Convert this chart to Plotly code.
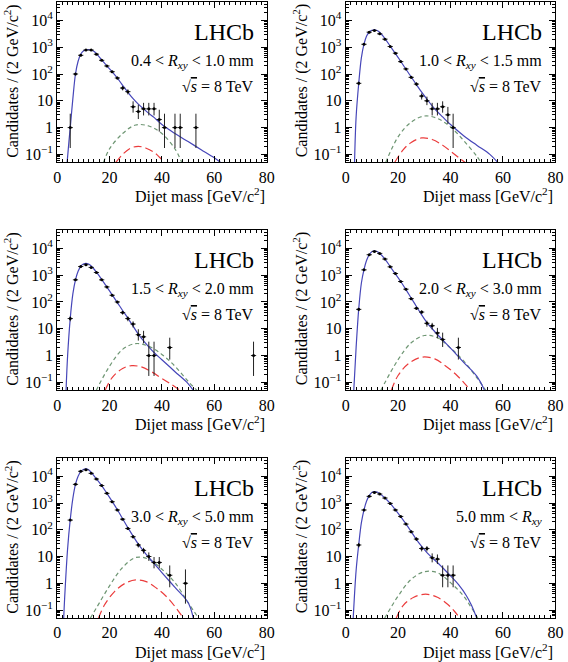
import plotly.graph_objects as go
from plotly.subplots import make_subplots
import math

# ---------------- data ----------------
panel_labels = [
    "0.4 &lt; <i>R</i><sub><i>xy</i></sub> &lt; 1.0 mm",
    "1.0 &lt; <i>R</i><sub><i>xy</i></sub> &lt; 1.5 mm",
    "1.5 &lt; <i>R</i><sub><i>xy</i></sub> &lt; 2.0 mm",
    "2.0 &lt; <i>R</i><sub><i>xy</i></sub> &lt; 3.0 mm",
    "3.0 &lt; <i>R</i><sub><i>xy</i></sub> &lt; 5.0 mm",
    "5.0 mm &lt; <i>R</i><sub><i>xy</i></sub>",
]

# data points: bin centres and counts
p1_x = [5, 7, 9, 11, 13, 15, 17, 19, 21, 23, 25, 27, 29, 31, 33, 35, 37, 39, 41, 45, 47, 53]
p1_y = [1, 100, 500, 780, 780, 550, 325, 200, 122, 71, 30, 22, 6, 4, 5, 5, 5, 2, 1, 1, 1, 1]
p2_x = [5, 7, 9, 11, 13, 15, 17, 19, 21, 23, 25, 27, 29, 31, 33, 35, 37, 39, 41]
p2_y = [45, 1290, 3650, 4200, 3160, 2000, 1060, 600, 290, 155, 75, 42, 15, 10, 5, 5, 6, 3, 1]
p3_x = [5, 7, 9, 11, 13, 15, 17, 19, 21, 23, 25, 27, 29, 31, 33, 35, 37, 43, 75]
p3_y = [24, 670, 2100, 2450, 1950, 1260, 670, 365, 178, 100, 40, 24, 15, 6, 5, 1, 1, 2, 1]
p4_x = [5, 7, 9, 11, 13, 15, 17, 19, 21, 23, 25, 27, 29, 31, 33, 35, 37, 43]
p4_y = [53, 1580, 5800, 7700, 6500, 4000, 2050, 1150, 580, 300, 133, 58, 42, 16, 13, 7, 4, 2]
p5_x = [5, 7, 9, 11, 13, 15, 17, 19, 21, 23, 25, 27, 29, 31, 33, 35, 37, 39, 43, 49]
p5_y = [230, 5000, 15400, 17400, 12900, 7900, 4500, 2300, 1120, 550, 250, 112, 55, 27, 17, 10, 6, 6, 2, 1]
p6_x = [5, 7, 9, 11, 13, 15, 17, 19, 21, 23, 25, 27, 29, 31, 33, 35, 37, 39, 41]
p6_y = [27, 550, 1780, 2500, 2180, 1540, 970, 550, 316, 163, 84, 45, 20, 20, 9, 8, 2, 2, 2]

# total fit (solid blue)
f1_x = [3.8, 4.5, 5, 6, 7, 8, 9, 10, 11, 12, 13, 14, 15, 17, 19, 21, 23, 25, 27, 29, 31, 33, 35, 37, 40, 45, 50, 55, 60, 63]
f1_y = [0.05, 0.3, 1.0, 12, 100, 300, 550, 720, 800, 820, 790, 700, 580, 340, 200, 120, 70, 38, 21, 12, 7.5, 5, 3.4, 2.4, 1.3, 0.6, 0.3, 0.15, 0.075, 0.045]
f2_x = [3.4, 4, 5, 6, 7, 8, 9, 10, 11, 12, 13, 15, 17, 19, 21, 23, 25, 27, 29, 31, 33, 35, 37, 40, 45, 50, 55, 58]
f2_y = [0.05, 2.5, 45, 400, 1300, 2600, 3700, 4300, 4450, 4200, 3600, 2100, 1100, 580, 300, 150, 78, 40, 21, 11.5, 6.5, 3.9, 2.5, 1.3, 0.5, 0.22, 0.1, 0.05]
f3_x = [3.4, 4, 5, 6, 7, 8, 9, 10, 11, 12, 13, 15, 17, 19, 21, 23, 25, 27, 29, 31, 33, 35, 37, 40, 45, 50, 52]
f3_y = [0.05, 1.0, 24, 200, 670, 1400, 2150, 2600, 2750, 2600, 2200, 1300, 700, 360, 185, 95, 48, 25, 12.5, 6.3, 3.5, 2.1, 1.3, 0.7, 0.25, 0.09, 0.05]
f4_x = [3.1, 4, 5, 6, 7, 8, 9, 10, 11, 12, 13, 15, 17, 19, 21, 23, 25, 27, 29, 31, 33, 35, 37, 40, 45, 50, 53]
f4_y = [0.05, 2, 55, 500, 1600, 3600, 5800, 7500, 8100, 7600, 6500, 4000, 2100, 1100, 580, 290, 140, 68, 33, 17, 10, 6.1, 3.8, 1.9, 0.56, 0.17, 0.05]
f5_x = [2.5, 3, 4, 5, 6, 7, 8, 9, 10, 11, 12, 13, 15, 17, 19, 21, 23, 25, 27, 29, 31, 33, 35, 37, 40, 45, 50, 52]
f5_y = [0.05, 0.5, 20, 240, 1500, 5000, 10000, 15000, 18000, 18800, 17500, 14000, 8000, 4500, 2300, 1150, 560, 260, 120, 58, 29, 16, 9.2, 5.5, 2.5, 0.7, 0.19, 0.05]
f6_x = [2.9, 4, 5, 6, 7, 8, 9, 10, 11, 12, 13, 15, 17, 19, 21, 23, 25, 27, 29, 31, 33, 35, 37, 40, 43, 46, 48, 50]
f6_y = [0.05, 3, 28, 180, 560, 1200, 1900, 2500, 2700, 2600, 2250, 1550, 970, 560, 310, 165, 85, 43, 24, 14, 9, 6, 3.8, 1.9, 0.9, 0.35, 0.15, 0.05]

# green dashed component
g1_x = [17.7, 20, 25, 30, 35, 40, 45, 47.6]
g1_y = [0.05, 0.16, 0.6, 1.25, 1.15, 0.6, 0.16, 0.05]
g2_x = [15.3, 20, 25, 30, 35, 40, 45, 50, 51.6]
g2_y = [0.05, 0.45, 1.6, 2.7, 2.2, 1.06, 0.33, 0.085, 0.05]
g3_x = [14.9, 20, 25, 30, 35, 40, 45, 50, 53.4]
g3_y = [0.05, 0.4, 1.7, 2.8, 2.2, 1.1, 0.4, 0.11, 0.05]
g4_x = [13.4, 20, 25, 30, 35, 40, 45, 50, 53.5]
g4_y = [0.05, 0.7, 3.0, 5.6, 4.6, 1.9, 0.63, 0.15, 0.05]
g5_x = [12.7, 15, 20, 25, 30, 35, 40, 45, 50, 54]
g5_y = [0.05, 0.12, 0.8, 3.9, 9.2, 7.9, 3.35, 1.06, 0.19, 0.05]
g6_x = [14.9, 20, 25, 30, 35, 40, 45, 48, 50.4]
g6_y = [0.05, 0.33, 1.4, 2.7, 2.5, 1.06, 0.33, 0.12, 0.05]

# red dashed component
r1_x = [22.4, 25, 28, 31, 34, 37, 39, 41]
r1_y = [0.05, 0.1, 0.17, 0.2, 0.17, 0.12, 0.08, 0.05]
r2_x = [18.7, 22, 25, 29, 33, 37, 41, 45.6]
r2_y = [0.05, 0.15, 0.28, 0.41, 0.36, 0.22, 0.11, 0.05]
r3_x = [18.3, 21, 25, 28.5, 32, 36, 40, 44, 47]
r3_y = [0.05, 0.15, 0.33, 0.42, 0.38, 0.25, 0.14, 0.08, 0.05]
r4_x = [17.4, 20, 24, 29, 34, 38, 42, 45, 47.6]
r4_y = [0.05, 0.18, 0.5, 0.87, 0.75, 0.42, 0.2, 0.1, 0.05]
r5_x = [15.8, 18, 22, 26, 30, 34, 38, 42, 46, 48.2]
r5_y = [0.05, 0.15, 0.5, 1.0, 1.33, 1.15, 0.65, 0.3, 0.1, 0.05]
r6_x = [19.3, 22, 26, 30.5, 35, 39, 41.5, 43.5]
r6_y = [0.05, 0.15, 0.3, 0.39, 0.3, 0.16, 0.09, 0.05]

x_tick_vals = [0, 20, 40, 60, 80]
x_tick_text = ["0", "20", "40", "60", "80"]
y_tick_vals = [0.1, 1, 10, 100, 1000, 10000]
y_tick_text = ["10<sup>\u22121</sup>", "1", "10", "10<sup>2</sup>", "10<sup>3</sup>", "10<sup>4</sup>"]

# 68.3% Poisson (Garwood) intervals for small counts
garwood = {1: (0.173, 3.300), 2: (0.708, 4.638), 3: (1.367, 5.918), 4: (2.086, 7.163),
           5: (2.840, 8.382), 6: (3.620, 9.584), 7: (4.419, 10.77), 8: (5.232, 11.95),
           9: (6.057, 13.11), 10: (6.891, 14.27)}

points = [(p1_x, p1_y), (p2_x, p2_y), (p3_x, p3_y), (p4_x, p4_y), (p5_x, p5_y), (p6_x, p6_y)]
fits = [(f1_x, f1_y), (f2_x, f2_y), (f3_x, f3_y), (f4_x, f4_y), (f5_x, f5_y), (f6_x, f6_y)]
greens = [(g1_x, g1_y), (g2_x, g2_y), (g3_x, g3_y), (g4_x, g4_y), (g5_x, g5_y), (g6_x, g6_y)]
reds = [(r1_x, r1_y), (r2_x, r2_y), (r3_x, r3_y), (r4_x, r4_y), (r5_x, r5_y), (r6_x, r6_y)]

W, H = 568, 662
FONT = "Liberation Serif"
BLUE = "rgb(70,70,185)"
GREEN = "rgb(110,150,115)"
RED = "rgb(235,60,60)"

fig = make_subplots(rows=3, cols=2)

col_px = [(54.3, 268.3), (349.0, 563.3)]
row_px = [(1.7, 162.7), (230.0, 391.0), (458.3, 619.0)]

minor_y = [m * 10 ** e for e in range(-2, 5) for m in range(2, 10)]

for i in range(6):
    r, c = i // 2 + 1, i % 2 + 1
    px, py = points[i]
    lo, hi = [], []
    for v in py:
        if v in garwood:
            a, b = garwood[v]
        else:
            a, b = v - math.sqrt(v), v + math.sqrt(v)
        lo.append(v - a)
        hi.append(b - v)
    fig.add_trace(go.Scatter(x=greens[i][0], y=greens[i][1], mode="lines", line_shape="spline",
                             line=dict(color=GREEN, width=1.2, dash="4px,3px")), row=r, col=c)
    fig.add_trace(go.Scatter(x=reds[i][0], y=reds[i][1], mode="lines", line_shape="spline",
                             line=dict(color=RED, width=1.2, dash="8px,4px")), row=r, col=c)
    fig.add_trace(go.Scatter(x=fits[i][0], y=fits[i][1], mode="lines", line_shape="spline",
                             line=dict(color=BLUE, width=1.2)), row=r, col=c)
    fig.add_trace(go.Scatter(x=px, y=py, mode="markers",
                             marker=dict(color="black", size=3),
                             error_y=dict(type="data", symmetric=False, array=hi, arrayminus=lo,
                                          color="#222", thickness=1, width=0),
                             error_x=dict(type="constant", value=1, color="#222", thickness=1, width=0)),
                  row=r, col=c)

    x0, x1 = col_px[c - 1]
    y0, y1 = row_px[r - 1]
    xa = "xaxis" if i == 0 else f"xaxis{i+1}"
    ya = "yaxis" if i == 0 else f"yaxis{i+1}"
    fig.layout[xa].update(
        domain=[x0 / W, x1 / W], range=[0, 80], showgrid=False, zeroline=False,
        showline=True, linecolor="black", linewidth=1, mirror="allticks",
        ticks="inside", ticklen=6, tickcolor="black", tickwidth=1,
        tickmode="array", tickvals=x_tick_vals, ticktext=x_tick_text,
        tickfont=dict(family=FONT, size=16, color="black"),
        minor=dict(ticks="inside", ticklen=3, dtick=2, tickcolor="black", showgrid=False),
    )
    fig.layout[ya].update(
        domain=[1 - y1 / H, 1 - y0 / H], type="log",
        range=[math.log10(0.05), math.log10(5e4)], showgrid=False, zeroline=False,
        showline=True, linecolor="black", linewidth=1, mirror="allticks",
        ticks="inside", ticklen=6, tickcolor="black", tickwidth=1,
        tickmode="array", tickvals=y_tick_vals, ticktext=y_tick_text,
        tickfont=dict(family=FONT, size=16, color="black"),
        minor=dict(ticks="inside", ticklen=3, tickmode="array", tickvals=minor_y,
                   tickcolor="black", showgrid=False),
    )
    xd = ("x" if i == 0 else f"x{i+1}") + " domain"
    yd = ("y" if i == 0 else f"y{i+1}") + " domain"
    fig.add_annotation(text="LHCb", xref=xd, yref=yd, x=0.947, y=0.809, xanchor="right",
                       yanchor="middle", showarrow=False,
                       font=dict(family=FONT, size=24, color="black"))
    fig.add_annotation(text=panel_labels[i], xref=xd, yref=yd, x=0.947, y=0.627, xanchor="right",
                       yanchor="middle", showarrow=False,
                       font=dict(family=FONT, size=16, color="black"))
    fig.add_annotation(text="\u221a<span style='text-decoration:overline'><i>s</i></span> = 8 TeV",
                       xref=xd, yref=yd, x=0.947, y=0.472,
                       xanchor="right", yanchor="middle", showarrow=False,
                       font=dict(family=FONT, size=16, color="black"))
    fig.add_annotation(text="Dijet mass [GeV/c<sup>2</sup>]", xref=xd, yref=yd, x=1, y=0,
                       xanchor="right", yanchor="middle", yshift=-33, showarrow=False,
                       font=dict(family=FONT, size=16, color="black"))
    fig.add_annotation(text="Candidates / (2 GeV/c<sup>2</sup>)", xref=xd, yref=yd, x=0, y=1,
                       xanchor="center", yanchor="top", xshift=-45, textangle=-90,
                       showarrow=False, font=dict(family=FONT, size=16, color="black"))

fig.update_layout(
    width=W, height=H, margin=dict(l=0, r=0, t=0, b=0),
    paper_bgcolor="white", plot_bgcolor="white", showlegend=False,
    font=dict(family=FONT, size=16, color="black"),
)

fig.write_html("out.html", config={"displayModeBar": False},
               post_script="document.body.style.margin='0';document.body.style.padding='0';"
                           "document.body.style.overflow='hidden';")
